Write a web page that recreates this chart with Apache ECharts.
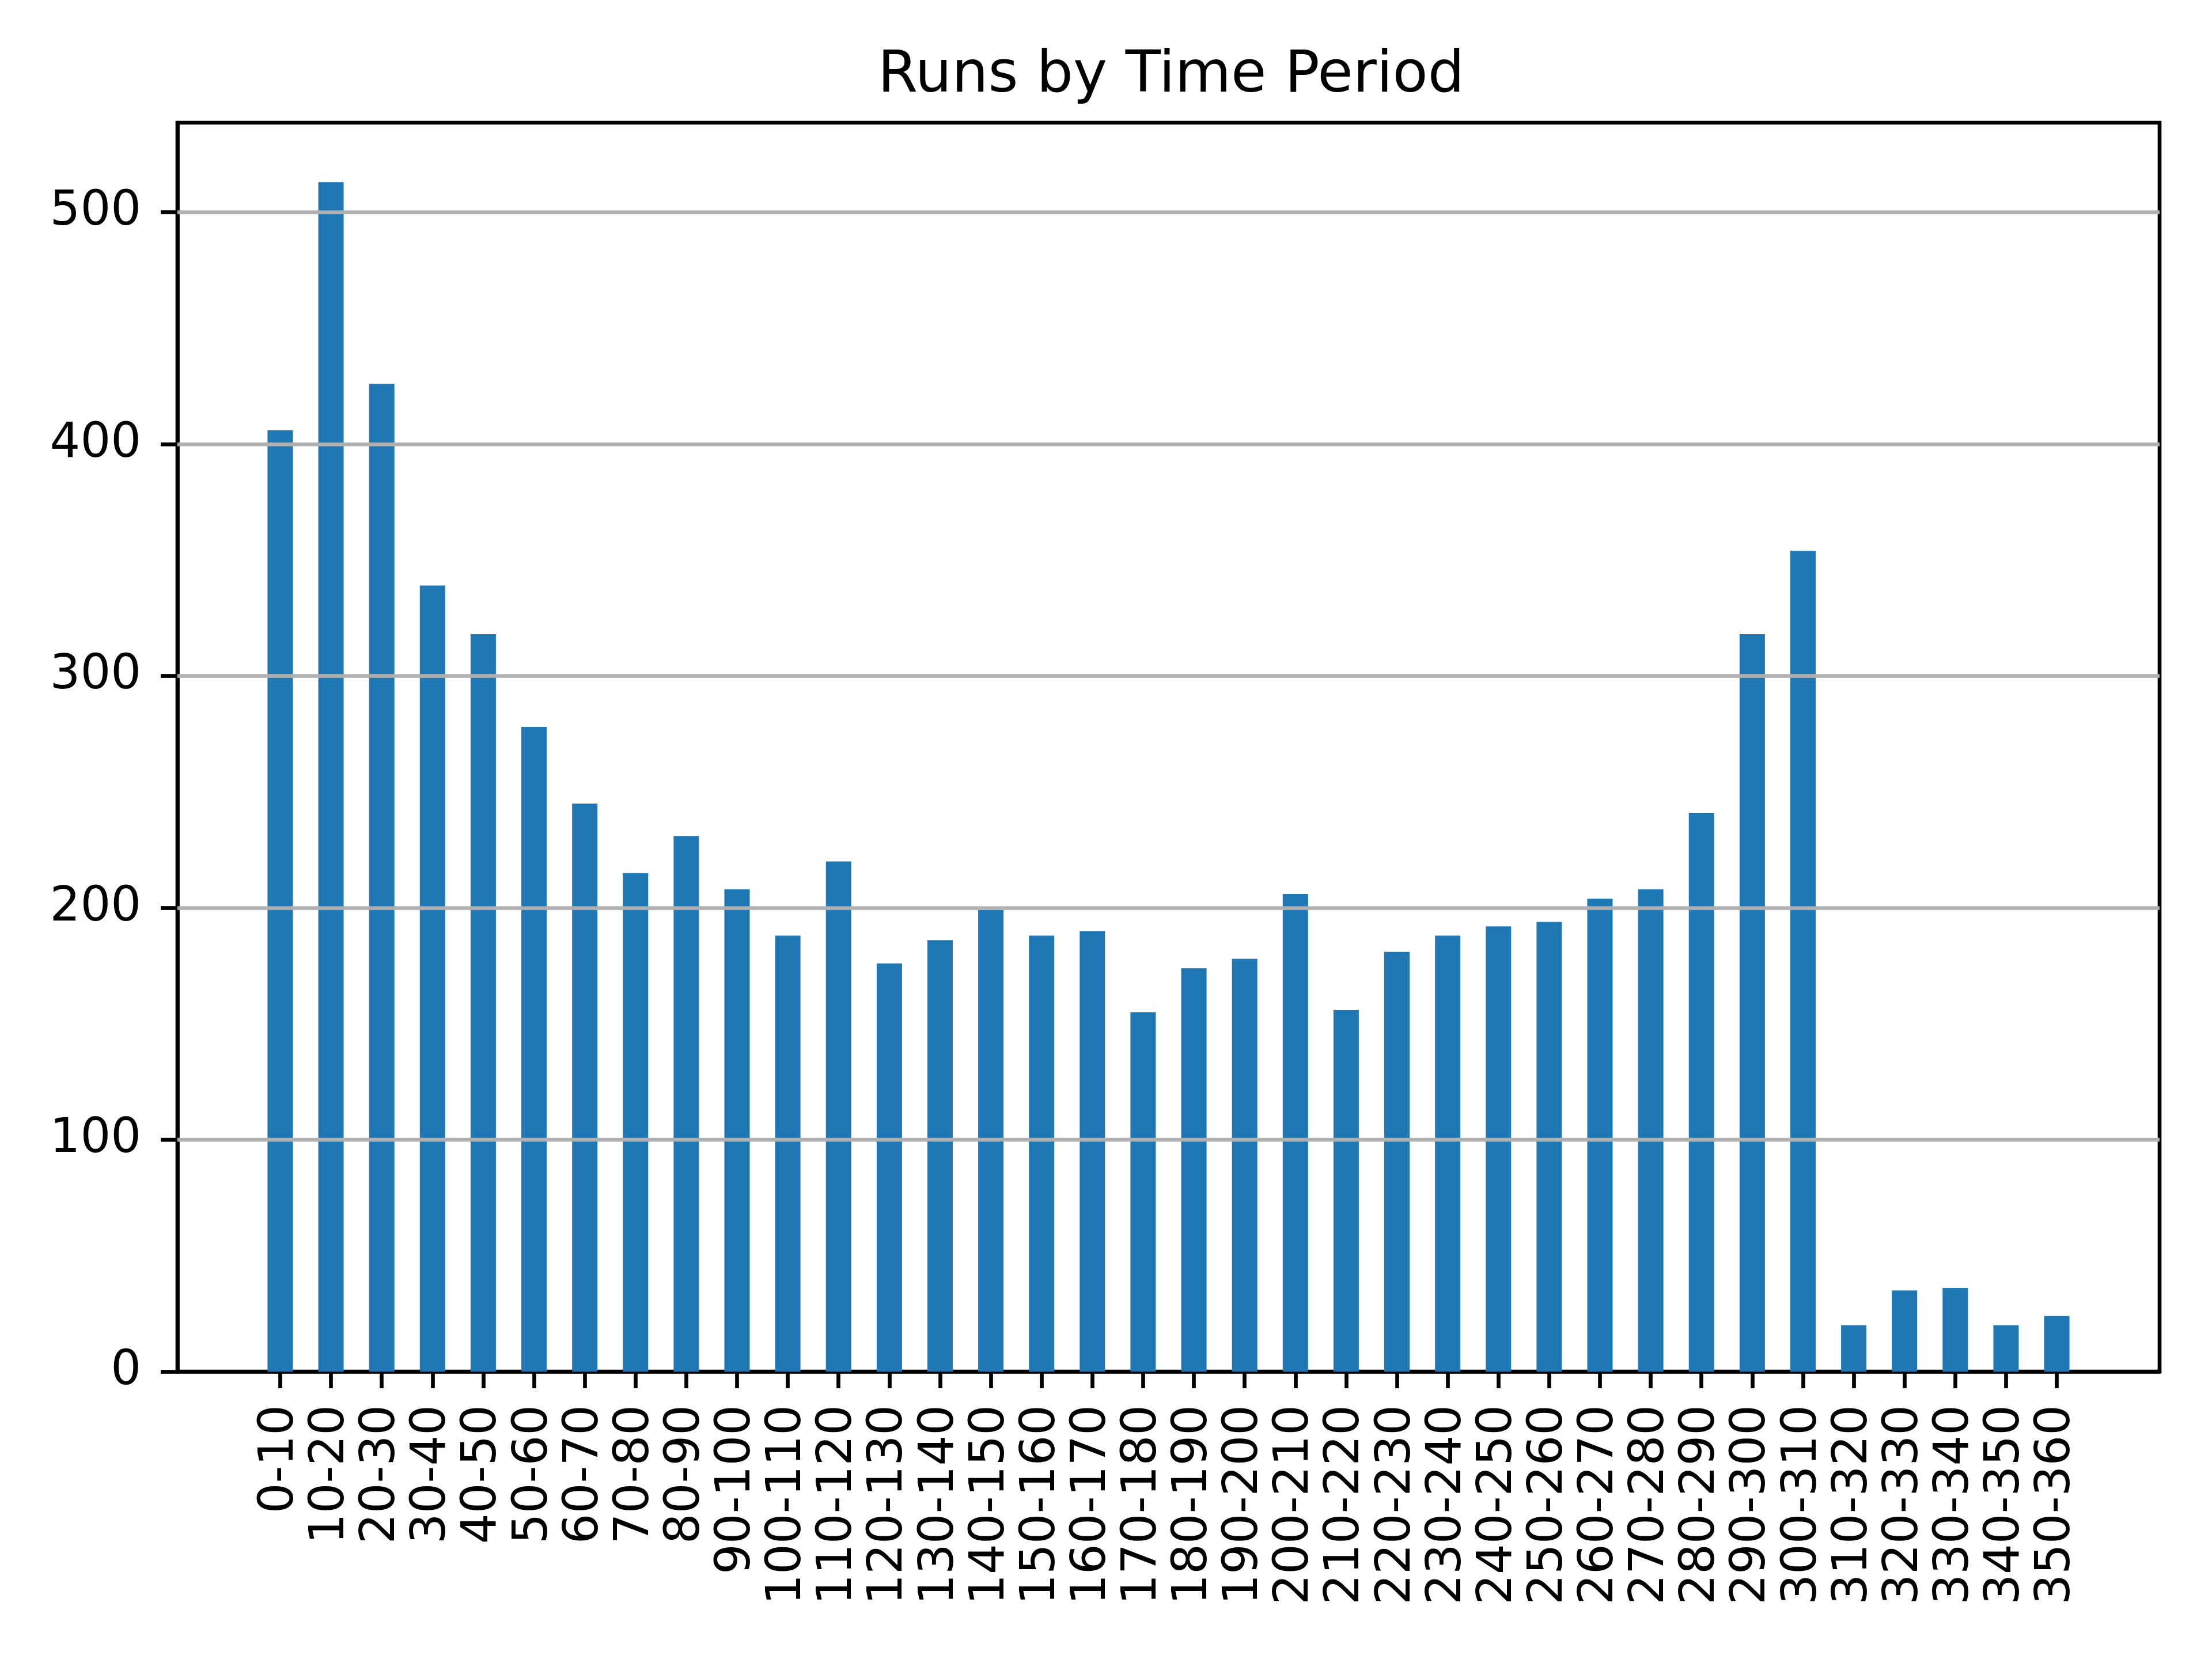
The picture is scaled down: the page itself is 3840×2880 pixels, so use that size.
<!DOCTYPE html>
<html>
<head>
<meta charset="utf-8">
<script src="https://cdn.jsdelivr.net/npm/echarts@6/dist/echarts.min.js"></script>
<style>
  html, body { margin: 0; padding: 0; background: #fff; }
  #chart { width: 3840px; height: 2880px; }
</style>
</head>
<body>
<div id="chart"></div>
<script>
const categories = ["0-10","10-20","20-30","30-40","40-50","50-60","60-70","70-80","80-90","90-100",
  "100-110","110-120","120-130","130-140","140-150","150-160","160-170","170-180","180-190","190-200",
  "200-210","210-220","220-230","230-240","240-250","250-260","260-270","270-280","280-290","290-300",
  "300-310","310-320","320-330","330-340","340-350","350-360"];
const runs = [406,513,426,339,318,278,245,215,231,208,
  188,220,176,186,199,188,190,155,174,178,
  206,156,181,188,192,194,204,208,241,318,
  354,20,35,36,20,24];
const yTicks = [0,100,200,300,400,500];
const chartTitle = "Runs by Time Period";

const LW = 6.67;
const FONT = "DejaVu Sans";
const positions = categories.map((c, i) => i);

const chart = echarts.init(document.getElementById('chart'), null, { renderer: 'canvas' });
chart.setOption({
  animation: false,
  backgroundColor: '#ffffff',
  title: {
    text: chartTitle,
    left: 2028,
    textAlign: 'center',
    top: 78,
    textStyle: { fontFamily: FONT, fontSize: 100, fontWeight: 'normal', color: '#000' }
  },
  grid: {
    left: 308, right: 91, top: 213, bottom: 499,
    show: true, borderColor: '#000', borderWidth: LW, backgroundColor: 'transparent'
  },
  xAxis: {
    type: 'value',
    min: -2.025, max: 37.025,
    axisLine: { show: true, onZero: false, lineStyle: { color: '#000', width: LW } },
    axisTick: { show: true, customValues: positions, length: 29, lineStyle: { color: '#000', width: LW } },
    axisLabel: {
      customValues: positions,
      formatter: v => categories[Math.round(v)],
      rotate: 90, margin: 58,
      fontFamily: FONT, fontSize: 83, color: '#000'
    },
    splitLine: { show: false }
  },
  yAxis: {
    type: 'value',
    min: 0, max: 538.65,
    axisLine: { show: true, onZero: false, lineStyle: { color: '#000', width: LW } },
    axisTick: { show: true, customValues: yTicks, length: 29, lineStyle: { color: '#000', width: LW } },
    axisLabel: {
      customValues: yTicks,
      margin: 63,
      fontFamily: FONT, fontSize: 83, color: '#000'
    },
    splitLine: { show: false }
  },
  series: [{
    type: 'bar',
    data: runs.map((v, i) => [positions[i], v]),
    barWidth: 44,
    itemStyle: { color: '#1f77b4' },
    markLine: {
      silent: true,
      symbol: 'none',
      z: 5,
      label: { show: false },
      lineStyle: { color: '#b0b0b0', width: LW, type: 'solid' },
      data: yTicks.filter(t => t > 0).map(t => ({ yAxis: t }))
    }
  }]
});
</script>
</body>
</html>
